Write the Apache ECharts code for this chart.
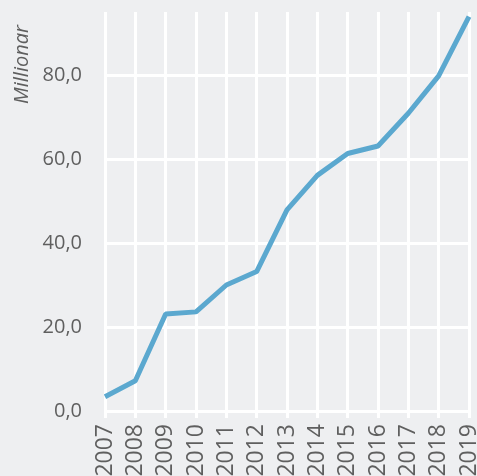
<!DOCTYPE html>
<html>
<head>
<meta charset="utf-8">
<script src="https://cdn.jsdelivr.net/npm/echarts@6/dist/echarts.min.js"></script>
<style>
  html, body { margin: 0; padding: 0; background: #eeeff1; }
  #chart { width: 477px; height: 476px; }
</style>
</head>
<body>
<div id="chart"></div>
<script>
// data
const years = ['2007','2008','2009','2010','2011','2012','2013','2014','2015','2016','2017','2018','2019'];
const values = [3.4, 7.2, 23.1, 23.6, 30.0, 33.2, 47.9, 56.1, 61.3, 63.1, 70.9, 79.8, 93.9];
const yName = 'Millionar';

const chart = echarts.init(document.getElementById('chart'));
const font = '"Open Sans", "Noto Sans", sans-serif';

chart.setOption({
  backgroundColor: '#eeeff1',
  animation: false,
  grid: { left: 105, right: 8, top: 12, bottom: 65, outerBoundsMode: 'none' },
  graphic: [{
    type: 'text',
    x: 12,
    y: 104,
    rotation: Math.PI / 2,
    style: {
      text: yName,
      font: 'italic 20px ' + font,
      fill: '#5f5f5f',
      align: 'left',
      verticalAlign: 'top'
    }
  }],
  xAxis: {
    type: 'category',
    data: years,
    boundaryGap: false,
    axisLine: { show: false },
    axisTick: { show: true, alignWithLabel: true, length: 7, lineStyle: { color: '#fff', width: 3 } },
    splitLine: { show: true, lineStyle: { color: '#fff', width: 3 } },
    axisLabel: {
      rotate: 90,
      margin: 13,
      color: '#5f5f5f',
      fontFamily: font,
      fontSize: 23,
      interval: 0
    }
  },
  yAxis: {
    type: 'value',
    min: 0,
    max: 95,
    interval: 20,
    axisLine: { show: false },
    axisTick: { show: false },
    splitLine: {
      lineStyle: { color: ['#fff', '#fff', '#fff', '#fff', '#fff', 'transparent'], width: 3 }
    },
    axisLabel: {
      margin: 23,
      color: '#5f5f5f',
      fontFamily: font,
      fontSize: 20,
      showMaxLabel: false,
      formatter: v => v.toFixed(1).replace('.', ',')
    }
  },
  series: [{
    type: 'line',
    data: values,
    symbol: 'none',
    lineStyle: { color: '#5ba8cf', width: 5 },
    z: 3
  }]
});
</script>
</body>
</html>
